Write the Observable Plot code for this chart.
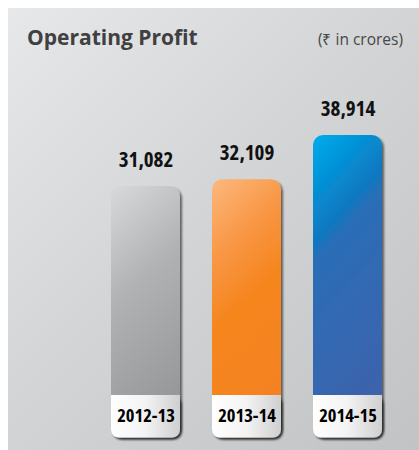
<!DOCTYPE html>
<html><head><meta charset="utf-8">
<script src="https://cdn.jsdelivr.net/npm/d3@7"></script>
<script src="https://cdn.jsdelivr.net/npm/@observablehq/plot@0.6"></script>
<style>
html,body{margin:0;padding:0;background:#fff;}
#panel{position:absolute;left:8px;top:8px;width:411px;height:442px;background:linear-gradient(135deg,#e7e8ea 0%,#d4d5d7 45%,#c2c3c5 100%);overflow:hidden;}
#header{position:relative;height:60px;}
#title{position:absolute;left:19px;top:17px;font-family:"Open Sans",sans-serif;font-weight:bold;font-size:21px;line-height:24px;color:#404040;white-space:nowrap;}
#unit{position:absolute;right:16px;top:21px;font-family:"Open Sans",sans-serif;font-size:15.5px;line-height:20px;color:#474747;white-space:nowrap;}
#chart svg{display:block;overflow:visible;}
#chart g[aria-label="text"], #chart g[aria-label="text"] text{font-stretch:condensed;}
</style>
</head><body>
<div id="panel">
  <div id="header"><div id="title">Operating Profit</div><div id="unit">(₹ in crores)</div></div>
  <div id="chart"></div>
</div>
<script>
const years = ["2012-13", "2013-14", "2014-15"];
const profit = [31082, 32109, 38914];
const gradIds = ["gGray", "gOrange", "gBlue"];

const data = years.map((y, i) => ({year: y, value: profit[i], grad: `url(#${gradIds[i]})`}));
const yBase = -7540;
const yTop = 45000;
const fmt = d3.format(",");
const labelFont = '"Open Sans",sans-serif';

const svg = Plot.plot({
  width: 411,
  height: 382,
  marginLeft: 69.5,
  marginRight: 3.5,
  marginTop: 27.4,
  marginBottom: 12.5,
  style: {background: "transparent", overflow: "visible"},
  x: {domain: years, padding: 0.314, axis: null},
  y: {domain: [yBase, yTop], axis: null},
  color: {type: "identity"},
  marks: [
    Plot.barY(data, {x: "year", y1: yBase, y2: "value", fill: "grad", rx: 10}),
    Plot.barY(data, {x: "year", y1: yBase, y2: yBase, insetTop: -42.5, fill: "url(#gWhite)", rx: 8}),
    Plot.barY(data, {x: "year", y1: yBase, y2: yBase, insetTop: -42.5, insetBottom: 20, fill: "url(#gWhite)"}),
    Plot.text(data, {x: "year", y: "value", text: d => fmt(d.value), lineAnchor: "bottom", dy: -20,
      fontSize: 21, fontWeight: "bold", fontFamily: labelFont, fill: "#111"}),
    Plot.text(data, {x: "year", y: yBase, text: "year", lineAnchor: "bottom", dy: -16.5,
      fontSize: 18.5, fontWeight: "bold", fontFamily: labelFont, fill: "#000"})
  ]
});

const ns = "http://www.w3.org/2000/svg";
const defs = document.createElementNS(ns, "defs");
function grad(id, x2, y2, stops) {
  const g = document.createElementNS(ns, "linearGradient");
  g.setAttribute("id", id);
  g.setAttribute("x1", 0); g.setAttribute("y1", 0);
  g.setAttribute("x2", x2); g.setAttribute("y2", y2);
  for (const [o, c] of stops) {
    const s = document.createElementNS(ns, "stop");
    s.setAttribute("offset", o); s.setAttribute("stop-color", c);
    g.appendChild(s);
  }
  defs.appendChild(g);
}
grad("gGray", 0.25, 1, [[0, "#d8d9db"], [0.45, "#b1b2b4"], [1, "#97989a"]]);
grad("gOrange", 0.25, 1, [[0, "#fcb87e"], [0.3, "#f89745"], [0.55, "#f5861f"], [1, "#f58220"]]);
grad("gBlue", 0.25, 1, [[0, "#00adee"], [0.33, "#0a79c1"], [0.4, "#2a6eb7"], [1, "#3c63ac"]]);
grad("gWhite", 1, 0, [[0, "#ffffff"], [0.5, "#f3f3f3"], [1, "#cfcfcf"]]);
const f = document.createElementNS(ns, "filter");
f.setAttribute("id", "shadow");
f.setAttribute("x", "-20%"); f.setAttribute("y", "-20%");
f.setAttribute("width", "140%"); f.setAttribute("height", "140%");
const ds = document.createElementNS(ns, "feDropShadow");
ds.setAttribute("dx", 2); ds.setAttribute("dy", 2); ds.setAttribute("stdDeviation", 1.2);
ds.setAttribute("flood-color", "#000"); ds.setAttribute("flood-opacity", 0.55);
f.appendChild(ds);
defs.appendChild(f);
svg.insertBefore(defs, svg.firstChild);
const barGroups = svg.querySelectorAll('g[aria-label="bar"]');
barGroups[0].setAttribute("filter", "url(#shadow)");
barGroups[1].setAttribute("filter", "url(#shadow)");

document.getElementById("chart").appendChild(svg);
</script>
</body></html>
